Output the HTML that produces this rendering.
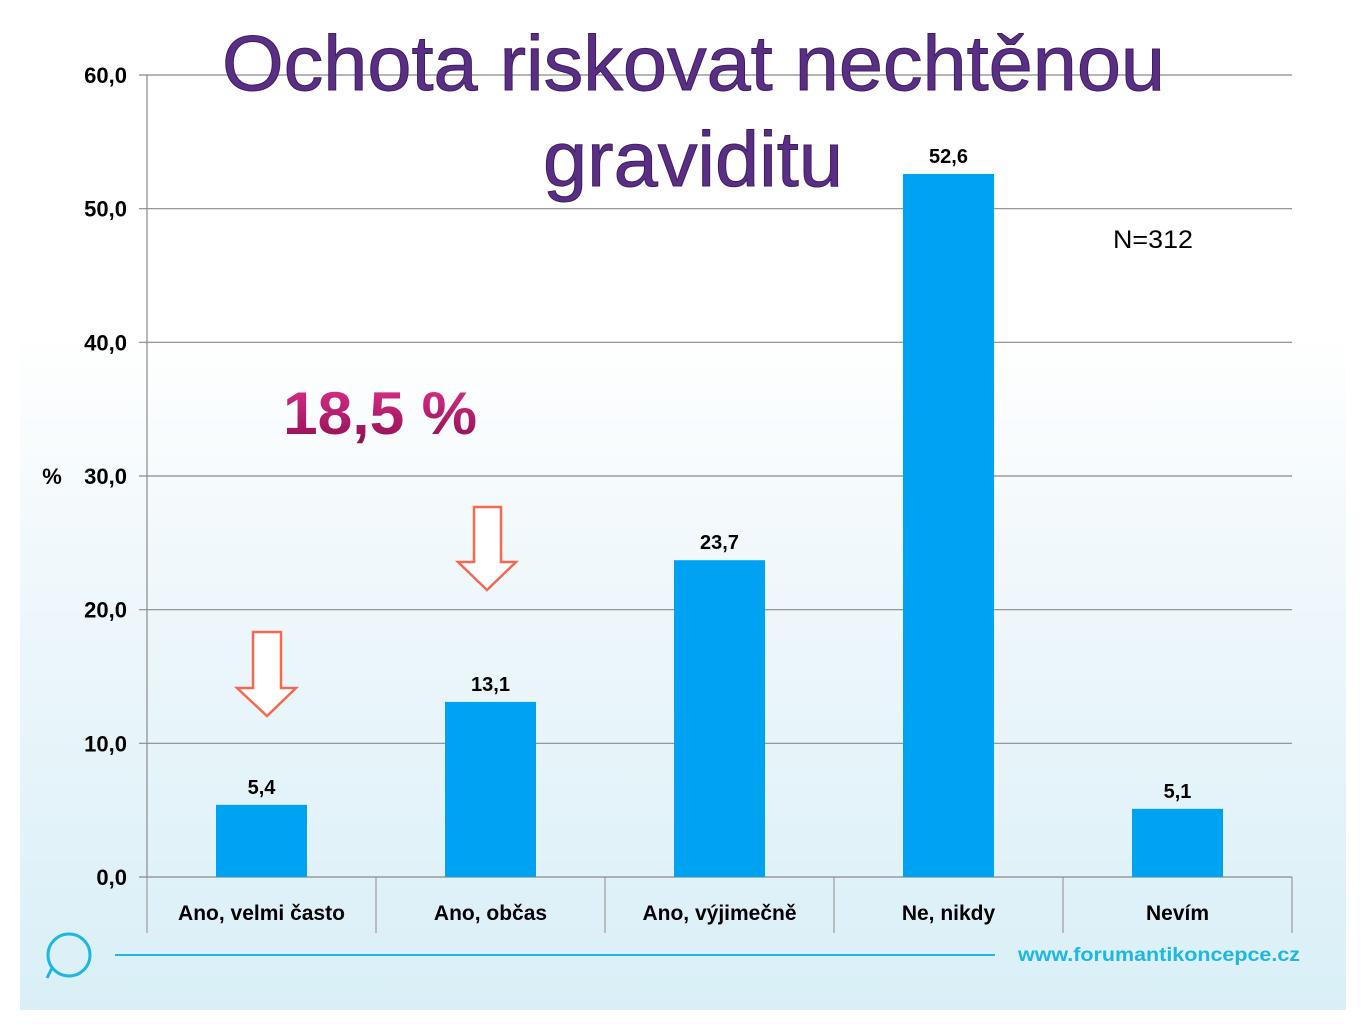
<!DOCTYPE html>
<html><head><meta charset="utf-8">
<style>
html,body{margin:0;padding:0;background:#fff;}
body{width:1365px;height:1024px;position:relative;overflow:hidden;font-family:"Liberation Sans",sans-serif;}
#slide{position:absolute;left:20px;top:0;width:1326px;height:1010px;background:linear-gradient(to bottom,#ffffff 0px,#ffffff 330px,#eef7fb 600px,#d9eff7 1010px);}
svg{position:absolute;left:0;top:0;}
</style></head>
<body>
<div id="slide"></div>
<svg id="chart" width="1365" height="1024">
  <defs>
    <linearGradient id="pinkGrad" x1="0" y1="0" x2="0" y2="1">
      <stop offset="0" stop-color="#e0308c"/><stop offset="1" stop-color="#8a0f50"/>
    </linearGradient>
  </defs>
  <g id="grid"></g>
  <g id="bars"></g>
  <g id="labels"></g>
  <text x="222" y="90" font-size="78" fill="#5b2e86" textLength="943" lengthAdjust="spacingAndGlyphs" font-family="Liberation Sans, sans-serif" stroke="#3d1f5c" stroke-width="1">Ochota riskovat nechtěnou</text>
  <text x="543" y="186" font-size="78" fill="#5b2e86" textLength="300" lengthAdjust="spacingAndGlyphs" font-family="Liberation Sans, sans-serif" stroke="#3d1f5c" stroke-width="1">graviditu</text>
  <text x="1113" y="248" font-size="25" fill="#000" textLength="80" lengthAdjust="spacingAndGlyphs">N=312</text>
  <text x="283" y="434" font-size="60" font-weight="bold" fill="url(#pinkGrad)" textLength="194" lengthAdjust="spacingAndGlyphs">18,5 %</text>
  <text x="52" y="484" font-size="22" font-weight="bold" fill="#000" text-anchor="middle">%</text>
  <path d="M474,507 L501,507 L501,562 L516,562 L487,590 L458,562 L474,562 Z" fill="#fff" stroke="#f26a50" stroke-width="2.5"/>
  <path d="M253,632 L281,632 L281,688 L296,688 L267,716 L237,688 L253,688 Z" fill="#fff" stroke="#f26a50" stroke-width="2.5"/>
  <circle cx="69" cy="955" r="21" fill="none" stroke="#1fb6e0" stroke-width="3"/>
  <path d="M52,968 L47,978" stroke="#1fb6e0" stroke-width="3"/>
  <line x1="115" y1="955" x2="995" y2="955" stroke="#1fb6e0" stroke-width="2"/>
  <text x="1018" y="961" font-size="19" font-weight="bold" fill="#1fb6e0" textLength="282" lengthAdjust="spacingAndGlyphs">www.forumantikoncepce.cz</text>
</svg>
<script>
const categories = ["Ano, velmi často","Ano, občas","Ano, výjimečně","Ne, nikdy","Nevím"];
const values = [5.4,13.1,23.7,52.6,5.1];
const valueLabels = ["5,4","13,1","23,7","52,6","5,1"];
const yTicks = [0,10,20,30,40,50,60];
const yTickLabels = ["0,0","10,0","20,0","30,0","40,0","50,0","60,0"];

const NS="http://www.w3.org/2000/svg";
const X0=147,X1=1292,Y0=877,Ymax=75,VMAX=60;
const yScale=v=>Y0-(v/VMAX)*(Y0-Ymax);
const band=(X1-X0)/categories.length;
const xCenter=i=>X0+band*(i+0.5);
const barW=91;
function mk(tag,attrs,parent){const e=document.createElementNS(NS,tag);for(const k in attrs)e.setAttribute(k,attrs[k]);parent.appendChild(e);return e;}
const grid=document.getElementById('grid'),bars=document.getElementById('bars'),labels=document.getElementById('labels');
yTicks.forEach((t,i)=>{
  const y=yScale(t);
  const l=mk('line',{x1:X0-8,x2:X1,y1:y,y2:y,stroke:'#8a8a8a','stroke-width':1.2},grid);
  
  
  const tx=mk('text',{x:X0-20,y:y+8,'font-size':22,'font-weight':'bold','text-anchor':'end',fill:'#000'},labels);
  tx.textContent=yTickLabels[i];
  
  
});
const ax=mk('line',{x1:X0,x2:X0,y1:Ymax,y2:Y0,stroke:'#8a8a8a','stroke-width':1.2},grid);


for(let i=0;i<=categories.length;i++){
  const x=X0+band*i;
  const d=mk('line',{x1:x,x2:x,y1:Y0,y2:933,stroke:'#8a8a8a','stroke-width':1},grid);
  
  
}
categories.forEach((c,i)=>{
  const cx=xCenter(i),y=yScale(values[i]);
  const r=mk('rect',{x:cx-barW/2,y:y,width:barW,height:Y0-y,fill:'#00a2f2'},bars);
  
  
  const v=mk('text',{x:cx,y:y-11,'font-size':20,'font-weight':'bold','text-anchor':'middle',fill:'#000'},labels);
  v.textContent=valueLabels[i];
  
  
  const cl=mk('text',{x:cx,y:920,'font-size':21,'font-weight':'bold','text-anchor':'middle',fill:'#000'},labels);
  cl.textContent=c;
  
  
});
</script>
</body></html>
